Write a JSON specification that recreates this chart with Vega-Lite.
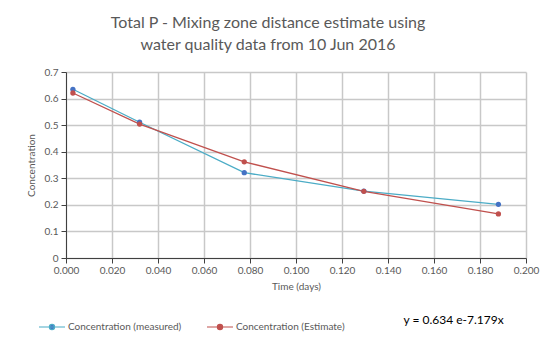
{
  "$schema": "https://vega.github.io/schema/vega-lite/v6.json",
  "autosize": {"type": "none"},
  "width": 460,
  "height": 186,
  "padding": {"left": 66, "top": 72, "right": 24, "bottom": 87},
  "background": "white",
  "title": {
    "text": ["Total P - Mixing zone distance estimate using", "water quality data from 10 Jun 2016"],
    "font": "Lato",
    "fontSize": 16,
    "fontWeight": "normal",
    "color": "#595959",
    "lineHeight": 22,
    "anchor": "middle",
    "dx": -28,
    "offset": 14
  },
  "config": {
    "view": {"stroke": null},
    "axis": {
      "labelFont": "Lato",
      "titleFont": "Lato",
      "labelFontSize": 10,
      "titleFontSize": 10,
      "titleFontWeight": "normal",
      "labelColor": "#595959",
      "titleColor": "#595959",
      "domainColor": "#404040",
      "tickColor": "#404040"
    }
  },
  "datasets": {
    "series": [
      {"time": 0.003, "value": 0.635, "series": "Concentration (measured)"},
      {"time": 0.032, "value": 0.511, "series": "Concentration (measured)"},
      {"time": 0.0775, "value": 0.321, "series": "Concentration (measured)"},
      {"time": 0.1295, "value": 0.252, "series": "Concentration (measured)"},
      {"time": 0.188, "value": 0.202, "series": "Concentration (measured)"},
      {"time": 0.003, "value": 0.621, "series": "Concentration (Estimate)"},
      {"time": 0.032, "value": 0.504, "series": "Concentration (Estimate)"},
      {"time": 0.0775, "value": 0.362, "series": "Concentration (Estimate)"},
      {"time": 0.1295, "value": 0.251, "series": "Concentration (Estimate)"},
      {"time": 0.188, "value": 0.166, "series": "Concentration (Estimate)"}
    ]
  },
  "encoding": {
    "x": {
      "field": "time", "type": "quantitative", "title": "Time (days)",
      "scale": {"domain": [0, 0.2], "nice": false},
      "axis": {"values": [0, 0.02, 0.04, 0.06, 0.08, 0.1, 0.12, 0.14, 0.16, 0.18, 0.2], "format": ".3f", "tickSize": 5, "labelPadding": 2, "titlePadding": 6, "labelFlush": false, "labelOverlap": false, "grid": true, "gridColor": "#c8c8c8", "gridWidth": 1.5, "gridOpacity": 1}
    },
    "y": {
      "field": "value", "type": "quantitative", "title": "Concentration",
      "scale": {"domain": [0, 0.7], "nice": false},
      "axis": {"values": [0, 0.1, 0.2, 0.3, 0.4, 0.5, 0.6, 0.7], "format": ".1~f", "tickSize": 5, "labelPadding": 3, "titlePadding": 8, "labelFlush": false, "labelOverlap": false, "grid": true, "gridColor": "#c8c8c8", "gridWidth": 1.5, "gridOpacity": 1}
    }
  },
  "layer": [
    {
      "data": {"name": "series"},
      "mark": {"type": "line", "strokeWidth": 1.3},
      "encoding": {
        "color": {
          "field": "series", "type": "nominal",
          "scale": {"domain": ["Concentration (measured)", "Concentration (Estimate)"], "range": ["#4BACC6", "#C0504D"]},
          "legend": {
            "title": null,
            "orient": "none",
            "direction": "horizontal",
            "legendX": -28,
            "legendY": 241,
            "labelFont": "Lato",
            "labelFontSize": 10,
            "labelColor": "#595959",
            "labelOffset": 2,
            "columnPadding": 22,
            "symbolType": "M-1,0H1M-0.2,0a0.2,0.2 0 1,0 0.4,0a0.2,0.2 0 1,0 -0.4,0",
            "symbolSize": 676,
            "symbolStrokeWidth": 1.2,
            "encode": {"symbols": {"update": {"fill": {"scale": "color", "field": "value"}}}}
          }
        }
      }
    },
    {
      "data": {"name": "series"},
      "mark": {"type": "point", "filled": true, "size": 28, "opacity": 1},
      "encoding": {
        "fill": {
          "field": "series", "type": "nominal",
          "scale": {"domain": ["Concentration (measured)", "Concentration (Estimate)"], "range": ["#4472C4", "#C0504D"]},
          "legend": null
        }
      }
    },
    {
      "data": {"values": [{"time": 0.1685, "value": -0.235}]},
      "mark": {"type": "text", "font": "Lato", "fontSize": 12, "color": "#000000", "align": "center", "baseline": "middle"},
      "encoding": {
        "text": {"value": "y = 0.634 e-7.179x"}
      }
    }
  ]
}
